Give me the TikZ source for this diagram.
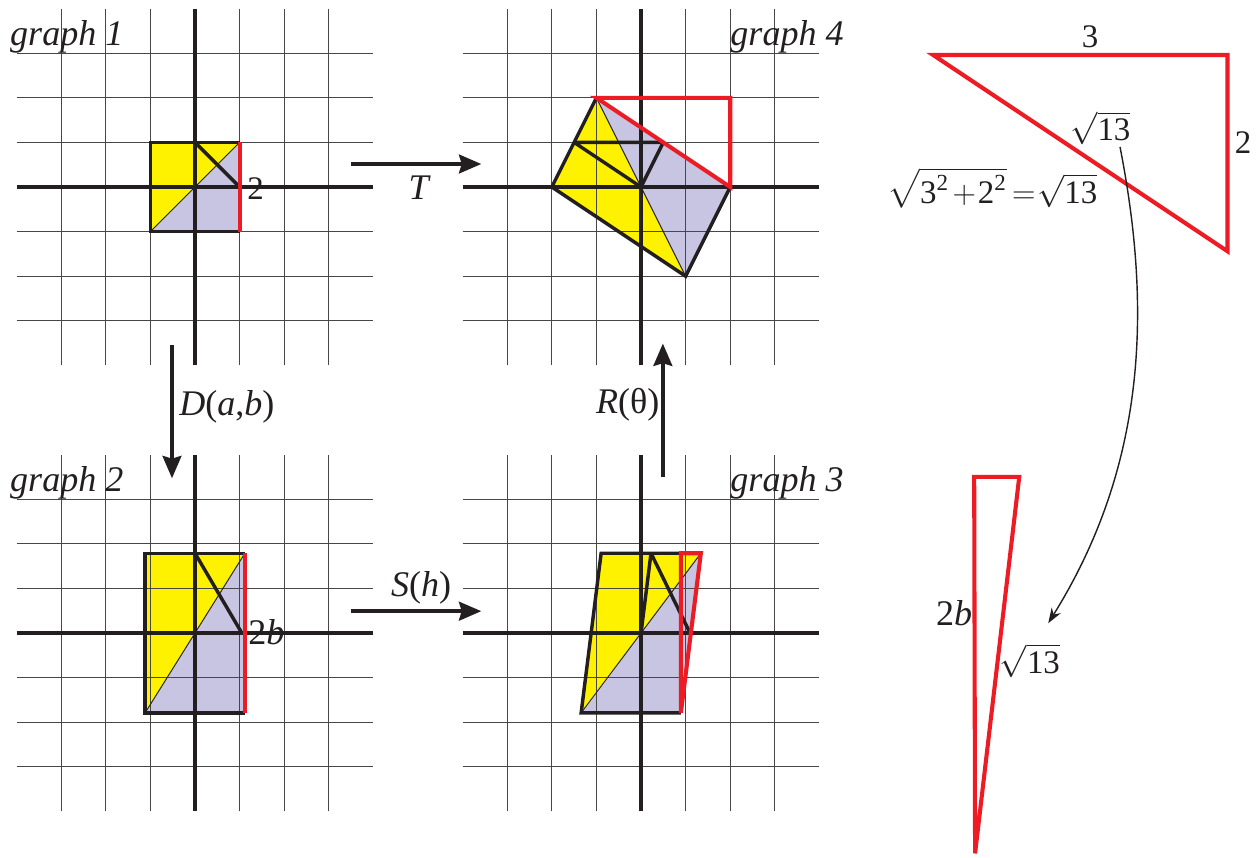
\documentclass[tikz,border=0pt]{standalone}
\usepackage{amsmath}
\usepackage{fontspec}
\setmainfont{Liberation Serif}
\usetikzlibrary{arrows.meta}
\definecolor{fy}{RGB}{255,242,0}
\definecolor{fl}{RGB}{199,197,225}
\definecolor{fr}{RGB}{237,28,36}
\definecolor{ink}{RGB}{35,31,32}
\newcommand{\mygrid}{%
  \foreach \k in {-3,...,3} {\draw[gridline] (\k,-4) -- (\k,4); \draw[gridline] (-4,\k) -- (4,\k);}
  \draw[axisline] (-4,0) -- (4,0);
  \draw[axisline] (0,-4) -- (0,4);
}
\tikzset{
  gridline/.style={line width=0.8pt, draw=black!72},
  axisline/.style={line width=2pt, draw=ink},
  outline/.style={line width=2.2pt, draw=ink, line join=miter},
  innerline/.style={line width=2.2pt, draw=ink, line join=bevel},
  redline/.style={line width=2.6pt, draw=fr, line join=miter},
  diagline/.style={line width=0.6pt, draw=ink},
  glabel/.style={font=\fontsize{23}{26}\selectfont\itshape, text=ink, inner sep=0pt},
  mlabel/.style={font=\fontsize{23}{26}\selectfont, text=ink, inner sep=0pt},
  nlabel/.style={font=\fontsize{21}{24}\selectfont, text=ink, inner sep=0pt},
  bigarrow/.style={line width=2.4pt, draw=ink, -{Stealth[length=0.5cm, width=0.42cm, inset=0.06cm]}},
  curvearrow/.style={line width=0.9pt, draw=ink, -{Stealth[length=0.34cm, width=0.24cm]}}
}
\begin{document}
\begin{tikzpicture}
\useasboundingbox (-4.372,-15.022) rectangle (23.856,4.193);

% ---------- graph 1 ----------
\begin{scope}[shift={(0,0)}]
  \fill[fy] (-1,-1) -- (-1,1) -- (1,1) -- cycle;
  \fill[fl] (-1,-1) -- (1,-1) -- (1,1) -- cycle;
  \mygrid
  \draw[diagline] (-1,-1) -- (1,1);
  \draw[outline] (1,1) -- (-1,1) -- (-1,-1) -- (1,-1);
  \draw[innerline] (0,1) -- (1,0);
  \draw[redline] (1,-1) -- (1,1);
  \node[nlabel] (g1two) at (1.36,-0.03) {2};
  \node[glabel, anchor=base west] (g1lab) at (-4.15,3.18) {graph 1};
\end{scope}

% ---------- graph 4 ----------
\begin{scope}[shift={(10,0)}]
  \fill[fy] (-2,0) -- (-1,2) -- (1,-2) -- cycle;
  \fill[fl] (-1,2) -- (2,0) -- (1,-2) -- cycle;
  \mygrid
  \draw[diagline] (-1,2) -- (1,-2);
  \draw[outline] (-1,2) -- (-2,0) -- (1,-2) -- (2,0);
  \draw[innerline] (-1.5,1) -- (0.5,1) -- (0,0) -- cycle;
  \draw[redline] (-1,2) -- (2,2) -- (2,0) -- cycle;
  \node[glabel, anchor=base east] (g4lab) at (4.55,3.18) {graph 4};
\end{scope}

% ---------- graph 2 ----------
\begin{scope}[shift={(0,-10)}]
  \fill[fy] (-1.118,-1.789) -- (-1.118,1.789) -- (1.118,1.789) -- cycle;
  \fill[fl] (-1.118,-1.789) -- (1.118,-1.789) -- (1.118,1.789) -- cycle;
  \mygrid
  \draw[diagline] (-1.118,-1.789) -- (1.118,1.789);
  \draw[outline] (1.118,1.789) -- (-1.118,1.789) -- (-1.118,-1.789) -- (1.118,-1.789);
  \draw[innerline] (0,1.789) -- (1.05,0);
  \draw[redline] (1.118,-1.789) -- (1.118,1.789);
  \node[mlabel] (g2lab2b) at (1.6,0.03) {2\textit{b}};
  \node[glabel, anchor=base west] (g2lab) at (-4.15,3.18) {graph 2};
\end{scope}

% ---------- graph 3 ----------
\begin{scope}[shift={(10,-10)}]
  \fill[fy] (-1.342,-1.789) -- (-0.894,1.789) -- (1.342,1.789) -- cycle;
  \fill[fl] (-1.342,-1.789) -- (0.894,-1.789) -- (1.342,1.789) -- cycle;
  \mygrid
  \draw[diagline] (-1.342,-1.789) -- (1.342,1.789);
  \draw[outline] (1.342,1.789) -- (-0.894,1.789) -- (-1.342,-1.789) -- (0.894,-1.789);
  \draw[innerline] (0,0) -- (0.224,1.789) -- (1.09,0.02);
  \draw[redline] (0.894,-1.789) -- (0.894,1.789) -- (1.342,1.789) -- cycle;
  \node[glabel, anchor=base east] (g3lab) at (4.55,3.18) {graph 3};
\end{scope}

% ---------- transformation arrows ----------
\coordinate (Ta) at (3.50,0.516);
\coordinate (Tb) at (6.42,0.516);
\draw[bigarrow] (Ta) -- (Tb);
\node[mlabel] (Tlab) at (5.04,-0.02) {\textit{T}};

\coordinate (Da) at (-0.516,-3.54);
\coordinate (Db) at (-0.516,-6.53);
\draw[bigarrow] (Da) -- (Db);
\node[mlabel, anchor=west] (Dlab) at (-0.36,-4.93) {\textit{D}(\textit{a},\textit{b})};

\coordinate (Sa) at (3.50,-9.51);
\coordinate (Sb) at (6.42,-9.51);
\draw[bigarrow] (Sa) -- (Sb);
\node[mlabel] (Slab) at (5.07,-8.98) {\textit{S}(\textit{h})};

\coordinate (Ra) at (10.49,-6.50);
\coordinate (Rb) at (10.49,-3.51);
\draw[bigarrow] (Ra) -- (Rb);
\node[mlabel, anchor=east] (Rlab) at (10.42,-4.88) {\textit{R}(θ)};

% ---------- big right triangle ----------
\coordinate (A1) at (16.55,2.96);
\coordinate (A2) at (23.15,2.96);
\coordinate (A3) at (23.15,-1.44);
\draw[redline] (A1) -- (A2) -- (A3) -- cycle;
\node[nlabel] (three) at (20.07,3.38) {3};
\node[nlabel] (two) at (23.50,0.99) {2};
\node[nlabel] (hypa) at (20.30,1.32) {$\sqrt{\text{13}}$};
\node[nlabel] (eqn) at (17.88,-0.02) {$\sqrt{\text{3}^{\text{2}}\mkern2mu{+}\mkern1mu\text{2}^{\text{2}}}\mkern3mu{=}\mkern1mu\sqrt{\text{13}}$};

% ---------- thin triangle ----------
\coordinate (B1) at (17.47,-6.50);
\coordinate (B2) at (18.48,-6.50);
\coordinate (B3) at (17.49,-14.94);
\draw[redline] (B1) -- (B2) -- (B3) -- cycle;
\node[mlabel] (twob) at (17.02,-9.55) {2\textit{b}};
\node[nlabel] (hypb) at (18.72,-10.62) {$\sqrt{\text{13}}$};

% ---------- curved arrow ----------
\coordinate (Cs) at (20.74,0.897);
\coordinate (Ce) at (19.13,-9.78);
\draw[curvearrow] (Cs) .. controls (21.41,-2.53) and (21.41,-6.12) .. (Ce);
\end{tikzpicture}
\end{document}
